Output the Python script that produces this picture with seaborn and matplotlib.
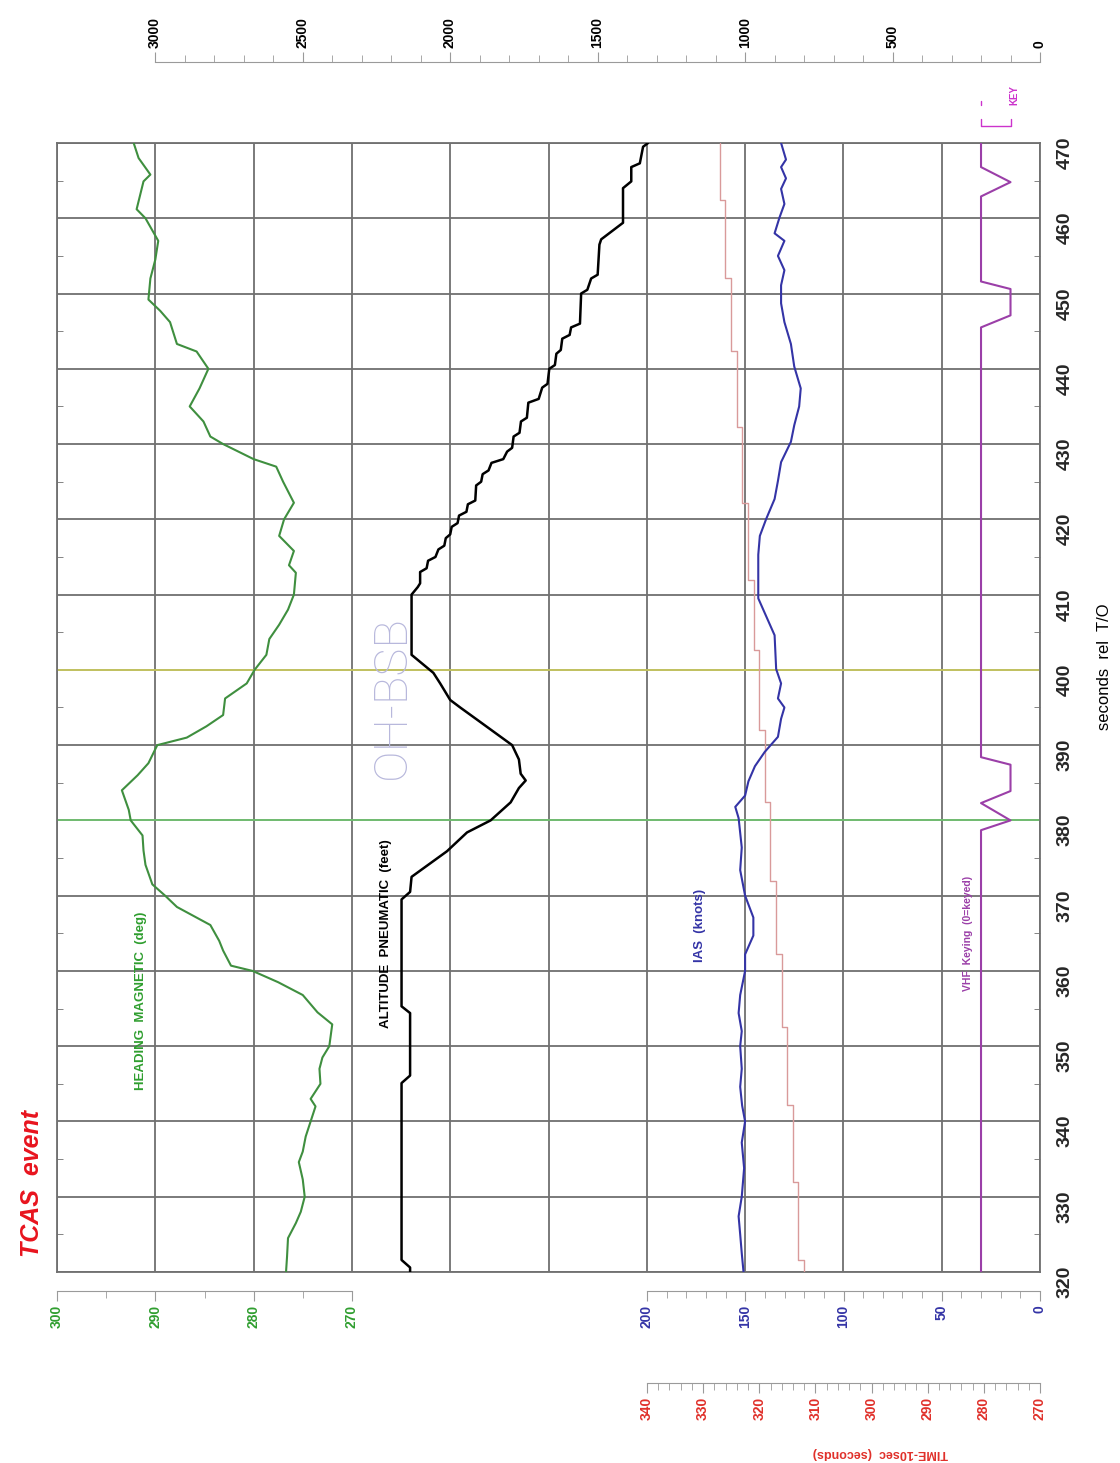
import matplotlib
matplotlib.use("Agg")
import matplotlib.pyplot as plt
from matplotlib.ticker import MultipleLocator
import seaborn as sns

# ---- data (time in seconds rel T/O) ----
hdg_t = [320, 322, 324.5, 326.5, 328, 330, 332.3, 334.6, 336, 338, 340, 342, 343, 345, 347,
         348.5, 350, 352.9, 354.5, 356.8, 358.5, 360, 360.7, 362.7, 364, 366.1, 368.5, 370,
         371.5, 374.1, 376, 378, 380, 381.4, 384, 386, 387.6, 390, 391, 392.5, 394, 396.2,
         398.2, 400, 402, 404.1, 406, 408, 410, 412.9, 413.9, 415.8, 417.8, 420, 422.2, 425,
         427, 428, 430, 431, 433, 435, 437.4, 440, 442.3, 443.3, 446.2, 447.7, 449.2, 452,
         454.5, 457, 460, 461.2, 464.9, 465.8, 468, 470]
hdg_deg = [276.7, 276.6, 276.5, 275.7, 275.2, 274.8, 275.0, 275.4, 275.0, 274.7, 274.2, 273.7,
           274.2, 273.2, 273.3, 273.0, 272.3, 272.0, 273.5, 275.0, 277.5, 280.1, 282.3, 283.1,
           283.5, 284.4, 287.8, 289.0, 290.3, 291.0, 291.2, 291.3, 292.5, 292.7, 293.4, 291.8,
           290.7, 289.8, 286.8, 284.8, 283.1, 282.9, 280.7, 279.9, 278.7, 278.4, 277.4, 276.5,
           275.9, 275.7, 276.4, 275.9, 277.4, 276.9, 275.9, 277.0, 277.7, 280.0, 283.1, 284.4,
           285.1, 286.5, 285.5, 284.6, 285.8, 287.8, 288.5, 289.5, 290.7, 290.5, 290.0, 289.7,
           291.0, 291.9, 291.2, 290.5, 291.7, 292.2]

alt_t = [320, 320.6, 321.6, 345.1, 346.1, 354.4, 355.3, 369.5, 370.5, 372.5, 375.9, 378.4, 380,
         382.4, 384.3, 385.3, 386.2, 388.1, 390, 393.3, 395, 396, 398.2, 399.6, 402, 410, 411,
         411.5, 413, 413.5, 414.5, 415, 416, 416.5, 417.5, 418, 419, 419.5, 420.5, 421, 422,
         422.5, 424.5, 425, 426, 426.5, 427.5, 428, 429, 429.5, 431, 431.5, 433, 433.5, 435.5,
         436, 437.5, 438, 440, 440.5, 442, 442.5, 444, 444.5, 445.5, 446, 450, 450.5, 452,
         452.5, 456.5, 457.2, 459.4, 464, 464.9, 466.8, 467.3, 469.5, 470]
alt_ft = [2136, 2136, 2165, 2165, 2136, 2136, 2165, 2165, 2136, 2131, 2011, 1943, 1863, 1795,
          1767, 1744, 1761, 1767, 1790, 1906, 1966, 2000, 2034, 2057, 2131, 2131, 2110, 2102,
          2102, 2080, 2075, 2050, 2040, 2020, 2015, 2000, 1995, 1975, 1970, 1945, 1940, 1915,
          1912, 1895, 1890, 1870, 1860, 1820, 1807, 1790, 1785, 1765, 1760, 1740, 1735, 1700,
          1688, 1670, 1664, 1645, 1640, 1625, 1620, 1595, 1590, 1560, 1556, 1535, 1522, 1500,
          1494, 1488, 1414, 1414, 1386, 1386, 1357, 1346, 1329]

ias_t = [320, 322.5, 325, 327.4, 330, 333.8, 337.2, 340, 342.1, 344.6, 347, 350, 352, 354.4,
         356.8, 360, 362.2, 364.7, 367.1, 370, 373.4, 376.4, 380.3, 381.8, 383.3, 385.2, 387.2,
         389.1, 391.1, 393.5, 395, 396.2, 398.2, 400.1, 404.6, 409.5, 412.9, 415.3, 417.8,
         420.1, 422.7, 425.1, 427.6, 430.3, 432.5, 435, 437.4, 440.3, 443.3, 446.2, 448.7,
         451.1, 453.1, 455, 457, 458, 460.1, 461.9, 463.9, 465.3, 466.8, 467.8, 470]
ias_kt = [150.8, 151.7, 152.5, 153.3, 151.7, 150.5, 151.7, 150.0, 151.5, 152.5, 151.7, 152.5,
          151.7, 153.3, 152.5, 150.0, 150.0, 145.8, 145.8, 150.0, 152.5, 151.7, 153.3, 155.0,
          150.0, 148.3, 145.0, 140.0, 133.3, 131.7, 130.0, 133.3, 131.7, 134.2, 135.0, 143.3,
          143.3, 143.3, 142.5, 139.2, 135.0, 133.3, 131.7, 126.7, 125.0, 122.5, 121.7, 125.0,
          126.7, 130.0, 131.7, 131.7, 130.0, 133.3, 130.0, 135.0, 132.5, 130.0, 131.7, 129.2,
          131.7, 129.2, 131.7]

tm10_t = [320, 321.6, 331.9, 342.2, 352.5, 362.2, 372.0, 382.4, 392.0, 402.6, 411.9, 422.2,
          432.3, 442.3, 452.1, 462.4, 470]
tm10_s = [312, 313, 314, 315, 316, 317, 318, 319, 320, 321, 322, 323, 324, 325, 326, 327, 327]

vhf_t = [320, 378.7, 380, 382.3, 383.9, 387.4, 388.4, 445.5, 447.1, 450.6, 451.6, 462.9,
         464.8, 466.8, 470]
vhf_key = [1, 1, 0, 1, 0, 0, 1, 1, 0, 0, 1, 1, 0, 1, 1]

# little "KEY" glyph above the plot
key_t = [473.2, 472.25, 472.25, 473.2]
key_k = [1, 1, 0, 0]

sec_ticks = list(range(320, 471, 10))
alt_ticks = [0, 500, 1000, 1500, 2000, 2500, 3000]
hdg_ticks = [270, 280, 290, 300]
ias_ticks = [0, 50, 100, 150, 200]
tm10_ticks = list(range(270, 341, 10))

GRID = "#707070"
SCALE = "#9a9a9a"
GREEN = "#3f8f3f"
GREEN_TXT = "#2f9e2f"
BLUE = "#3434a6"
RED_LINE = "#d99a9a"
RED_TXT = "#e0302a"
PURPLE = "#9b3fa8"
KEYC = "#cc33cc"

sns.set_style("white")
plt.rcParams["font.family"] = ["Liberation Sans", "DejaVu Sans"]

W, H = 1120, 1463
fig = plt.figure(figsize=(W / 100, H / 100), dpi=100)


def box(l, t, r, b):
    return [l / W, 1 - b / H, (r - l) / W, (b - t) / H]


# main frame: horizontal = 10 grid divisions (u), vertical = seconds
ax = fig.add_axes(box(57, 143, 1040, 1272))
ax.set_xticks(range(0, 11))
ax.set_yticks(sec_ticks)
ax.yaxis.set_minor_locator(MultipleLocator(5))
ax.grid(True, which="major", color=GRID, lw=1.3)
ax.set_axisbelow(True)
ax.tick_params(axis="x", length=0, labelbottom=False, labeltop=False)
ax.yaxis.tick_right()
ax.tick_params(axis="y", which="major", length=0, pad=12, labelsize=14, labelrotation=90)
ax.tick_params(axis="y", which="minor", direction="in", length=4, left=True, right=True,
               color=GRID)
for lab in ax.get_yticklabels():
    lab.set_fontweight("bold")
for s in ax.spines.values():
    s.set_color(GRID)
    s.set_linewidth(1.3)
ax.yaxis.set_label_position("right")
ax.set_ylabel("seconds  rel  T/O", fontsize=12, rotation=90, color="black")
ax.yaxis.set_label_coords(1.058, 0.536)

ax.axhline(380, color="#6fcf6f", lw=1.1, zorder=1)
ax.axhline(400, color="#d6d65a", lw=1.1, zorder=1)


def overlay(left, right):
    a = ax.twiny()
    a.set_axis_off()
    return a, (left, right)


ax_red, lim_red = overlay(445, 270)
ax_hdg, lim_hdg = overlay(300, 200)
ax_alt, lim_alt = overlay(10000 / 3, 0)
ax_ias, lim_ias = overlay(500, 0)
ax_vhf, lim_vhf = overlay(97 / 3, -1)

sns.lineplot(x=tm10_s, y=tm10_t, orient="y", estimator=None, sort=False, color=RED_LINE,
             lw=1.0, drawstyle="steps-pre", ax=ax_red)
sns.lineplot(x=hdg_deg, y=hdg_t, orient="y", estimator=None, sort=False, color=GREEN,
             lw=1.5, ax=ax_hdg)
sns.lineplot(x=alt_ft, y=alt_t, orient="y", estimator=None, sort=False, color="black",
             lw=1.8, ax=ax_alt)
sns.lineplot(x=ias_kt, y=ias_t, orient="y", estimator=None, sort=False, color=BLUE,
             lw=1.5, ax=ax_ias)
sns.lineplot(x=vhf_key, y=vhf_t, orient="y", estimator=None, sort=False, color=PURPLE,
             lw=1.5, ax=ax_vhf)
ax_vhf.plot(key_k, key_t, color=KEYC, lw=1.0, clip_on=False)
ax_vhf.plot([1, 1], [475.0, 475.6], color=KEYC, lw=1.0, clip_on=False)
ax_vhf.text(-0.12, 476.4, "KEY", rotation=90, color=KEYC, fontsize=7, fontweight="bold",
            ha="center", va="center", clip_on=False)

for a, lim in [(ax_red, lim_red), (ax_hdg, lim_hdg), (ax_alt, lim_alt), (ax_ias, lim_ias),
               (ax_vhf, lim_vhf)]:
    a.set_xlim(*lim)
ax.set_xlim(10, 0)
ax.set_ylim(320, 470)

# curve captions inside the frame
ax.text(9.15, 356, "HEADING  MAGNETIC  (deg)", rotation=90, color=GREEN_TXT, fontsize=9.5,
        fontweight="bold", ha="center", va="center")
ax.text(6.65, 365, "ALTITUDE  PNEUMATIC  (feet)", rotation=90, color="black", fontsize=9.5,
        fontweight="bold", ha="center", va="center")
ax.text(3.46, 366, "IAS  (knots)", rotation=90, color=BLUE, fontsize=9.5,
        fontweight="bold", ha="center", va="center")
ax.text(0.73, 365, "VHF  Keying  (0=keyed)", rotation=90, color=PURPLE, fontsize=7.5,
        fontweight="bold", ha="center", va="center")
ax.text(6.59, 396.4, "OH-BSB", rotation=90, color="#b8b8dc", fontsize=34,
        family=["Roboto", "DejaVu Sans"], fontweight="light", ha="center", va="center")


# detached value scales
def scale_axis(l, r, y, lim, ticks, minor, color, top=False):
    a = fig.add_axes([l / W, 1 - y / H, (r - l) / W, 0.0001])
    a.patch.set_visible(False)
    a.set_xlim(*lim)
    a.set_yticks([])
    for s in a.spines.values():
        s.set_visible(False)
    side = "top" if top else "bottom"
    a.spines[side].set_visible(True)
    a.spines[side].set_color(SCALE)
    a.xaxis.set_ticks_position(side)
    a.set_xticks(ticks)
    a.xaxis.set_minor_locator(MultipleLocator(minor))
    a.tick_params(axis="x", which="both", direction="out", color=SCALE, labelcolor=color,
                  labelsize=10, labelrotation=90, pad=3)
    a.tick_params(axis="x", which="major", length=7)
    a.tick_params(axis="x", which="minor", length=5)
    for lab in a.get_xticklabels():
        lab.set_fontweight("bold")
    return a


scale_axis(155, 1040, 62, (3000, 0), alt_ticks, 100, "black", top=True)
scale_axis(57, 352, 1291, (300, 270), hdg_ticks, 5, GREEN_TXT)
scale_axis(647, 1040, 1291, (200, 0), ias_ticks, 10, BLUE)
scale_axis(647, 1040, 1383, (340, 270), tm10_ticks, 2, RED_TXT)

fig.text(880 / W, 1 - 1453 / H, "TIME-10sec  (seconds)", rotation=180, color=RED_TXT,
         fontsize=9, fontweight="bold", ha="center", va="center")
fig.text(32 / W, 1 - 1183 / H, "TCAS  event", rotation=90, color="#e8141e", fontsize=18,
         fontweight="bold", fontstyle="italic", ha="center", va="center")

fig.savefig("out.png", dpi=100)
